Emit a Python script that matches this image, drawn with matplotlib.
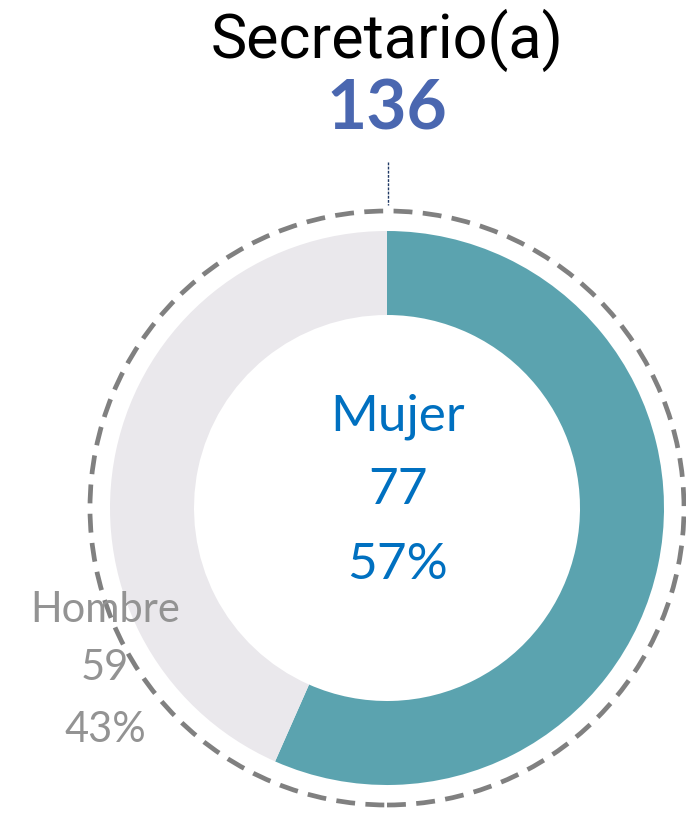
import matplotlib.pyplot as plt
from matplotlib.patches import Circle

# Data
title = 'Secretario(a)'
total = 136
labels = ['Mujer', 'Hombre']
counts = [77, 59]
pcts = ['57%', '43%']
colors = ['#5BA3AF', '#EAE8EC']

# Figure in pixel coordinates (686 x 819)
fig = plt.figure(figsize=(6.86, 8.19), dpi=100)
ax = fig.add_axes([0, 0, 1, 1])

cx, cy = 387, 819 - 508
r_out = 277
ring = 84

ax.pie(counts, colors=colors, startangle=90, counterclock=False,
       radius=r_out, center=(cx, cy), frame=True,
       wedgeprops=dict(width=ring, edgecolor='none'))
ax.set_xlim(0, 686)
ax.set_ylim(0, 819)
ax.set_aspect('equal')
ax.axis('off')

# Dashed outer circle
ax.add_patch(Circle((cx, cy), 297, fill=False, edgecolor='#808080',
                    linewidth=3.4, linestyle=(0, (4, 2.2))))

# Small dashed connector
ax.plot([cx + 1, cx + 1], [819 - 162, 819 - 205], color='#1F3864',
        linewidth=1, linestyle=(0, (2, 1)))

# Title and total
ax.text(cx, 819 - 40, title, ha='center', va='center', fontsize=44,
        family='Roboto', fontweight='normal', color='black')
ax.text(cx, 819 - 110, str(total), ha='center', va='center', fontsize=50,
        family='Lato', fontweight='bold', color='#4A67B0')

# Mujer label in the centre
for txt, yy in zip([labels[0], str(counts[0]), pcts[0]], [417, 490, 565]):
    ax.text(cx + 11, 819 - yy, txt, ha='center', va='center', fontsize=37,
            family='Lato', fontweight='normal', color='#0070C0')

# Hombre label on the left
for txt, yy in zip([labels[1], str(counts[1]), pcts[1]], [610, 668, 730]):
    ax.text(105, 819 - yy, txt, ha='center', va='center', fontsize=30,
            family='Lato', fontweight='normal', color='#939393')

plt.savefig('out.png', dpi=100, facecolor='white')
